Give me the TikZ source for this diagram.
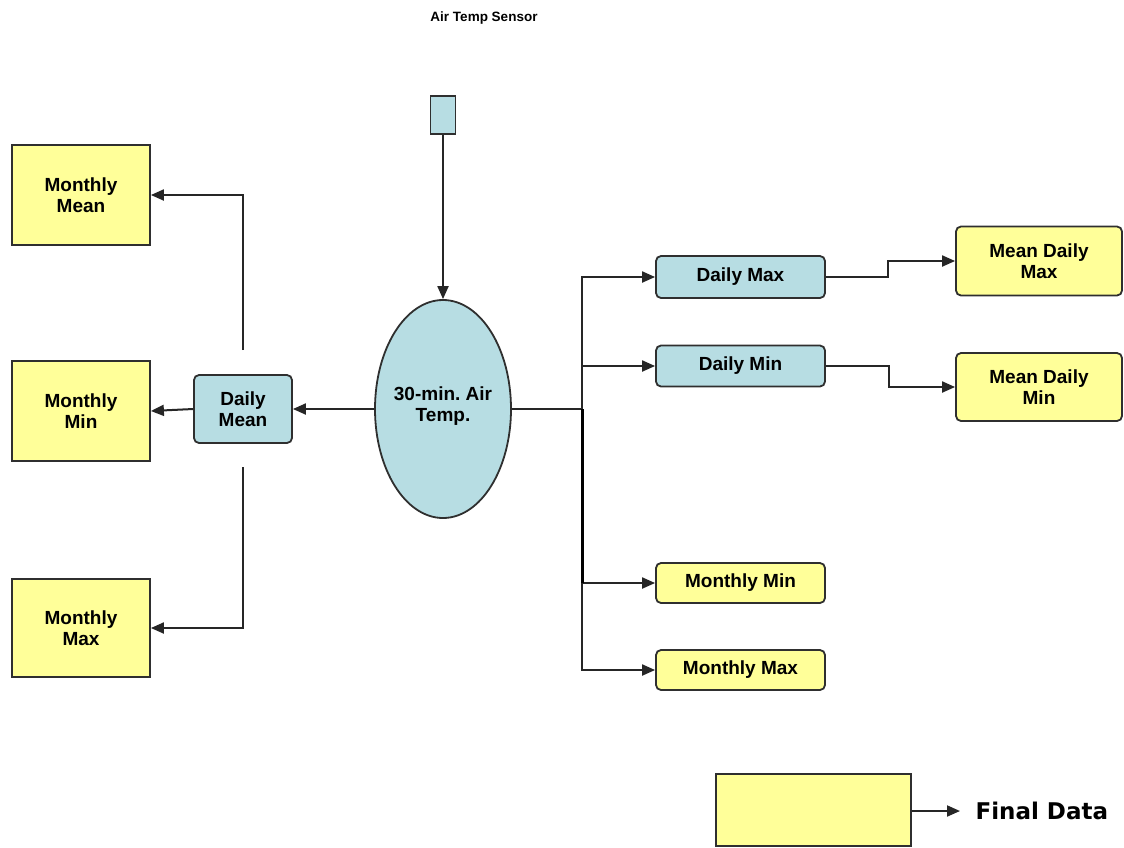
\documentclass[tikz,border=0pt]{standalone}
\usepackage{fontspec}
\setmainfont{Liberation Sans}
\newfontfamily\legendfont{DejaVu Sans}
\usetikzlibrary{shapes.geometric,arrows.meta}
\definecolor{boxyellow}{HTML}{FFFF99}
\definecolor{boxblue}{HTML}{B7DDE3}
\definecolor{edgegray}{HTML}{2F2F2F}
\tikzset{
  base/.style={draw=edgegray,line width=1.8pt,inner sep=0pt,align=center,
    font=\fontsize{19}{21}\selectfont\bfseries},
  labeltext/.style={inner sep=0pt,align=center,font=\fontsize{19}{21}\selectfont\bfseries},
  yellowsq/.style={base,fill=boxyellow,rectangle},
  yellowrd/.style={base,fill=boxyellow,rectangle,rounded corners=5pt},
  bluerd/.style={base,fill=boxblue,rectangle,rounded corners=5pt},
  conn/.style={draw=black!85,line width=2pt},
  arr/.style={conn,-{Triangle[length=13pt,width=11pt]}}
}
\begin{document}
\begin{tikzpicture}[x=1pt,y=-1pt]
\useasboundingbox (0,0) rectangle (1124,847);
% title
\node[font=\fontsize{13.5}{15}\selectfont\bfseries] (title) at (484,18) {Air Temp Sensor};
% centre
\node[base,fill=boxblue,minimum width=25pt,minimum height=38pt] (sensor) at (443,115) {};
\node[base,fill=boxblue,ellipse,minimum width=136pt,minimum height=218pt] (ell) at (443,409) {};
\node[labeltext] (elltext) at (443,406) {30-min.\ Air\\Temp.};
% left
\node[bluerd,minimum width=98pt,minimum height=68pt] (dmean) at (243,409) {Daily\\Mean};
\node[yellowsq,minimum width=138pt,minimum height=100pt] (mmean) at (81,195) {Monthly\\Mean};
\node[yellowsq,minimum width=138pt,minimum height=100pt] (mminl) at (81,411) {Monthly\\Min};
\node[yellowsq,minimum width=138pt,minimum height=98pt] (mmaxl) at (81,628) {Monthly\\Max};
% right
\node[bluerd,minimum width=169pt,minimum height=42pt] (dmax) at (740.5,277) {Daily Max};
\node[bluerd,minimum width=169pt,minimum height=41pt] (dmin) at (740.5,366) {Daily Min};
\node[yellowrd,minimum width=166pt,minimum height=69pt] (mdmax) at (1039,261) {Mean Daily\\Max};
\node[yellowrd,minimum width=166pt,minimum height=68pt] (mdmin) at (1039,387) {Mean Daily\\Min};
\node[yellowrd,minimum width=169pt,minimum height=40pt] (mminr) at (740.5,583) {Monthly Min};
\node[yellowrd,minimum width=169pt,minimum height=40pt] (mmaxr) at (740.5,670) {Monthly Max};
% legend
\node[yellowsq,minimum width=195pt,minimum height=72pt] (legend) at (813.5,810) {};
\node[anchor=west,font=\legendfont\fontsize{23}{26}\selectfont\bfseries] (final) at (972,811) {Final Data};
\coordinate (legendtip) at (960,811);
% connectors
\draw[arr] (sensor.south) -- (ell.north);
\draw[arr] (ell.west) -- (dmean.east);
\draw[arr] (dmean.west) -- (mminl.east);
\coordinate (up) at (243,350);
\coordinate (dn) at (243,467);
\draw[arr] (up) |- (mmean.east);
\draw[arr] (dn) |- (mmaxl.east);
\coordinate (junc) at (582,409);
\draw[conn] (ell.east) -- (junc);
\draw[arr] (junc) |- (dmax.west);
\draw[arr] (junc) |- (dmin.west);
\draw[arr] (junc) |- (mminr.west);
\draw[arr] (junc) |- (mmaxr.west);
\draw[draw=black,line width=3pt] (junc) -- (junc |- mminr.west);
\draw[arr] (dmax.east) -- ++(62,0) |- (mdmax.west);
\draw[arr] (dmin.east) -- ++(63,0) |- (mdmin.west);
\draw[arr] (legend.east |- legendtip) -- (legendtip);
\end{tikzpicture}
\end{document}
